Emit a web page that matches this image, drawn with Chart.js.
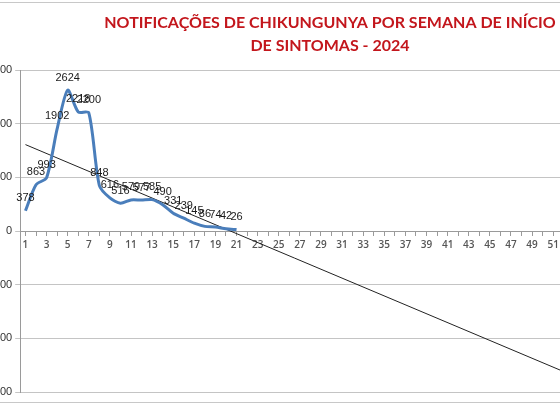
<!DOCTYPE html>
<html>
<head>
<meta charset="utf-8">
<script src="https://cdn.jsdelivr.net/npm/chart.js@4"></script>
<style>
  html, body { margin: 0; padding: 0; background: #fff; }
  body { width: 560px; height: 404px; overflow: hidden; position: relative; }
  #frame { position: absolute; left: 0; top: 2px; width: 560px; height: 399px; border-top: 1px solid #c8c8c8; border-bottom: 1px solid #c8c8c8; }
  #wrap { position: absolute; left: -22px; top: 0; width: 720px; height: 404px; }
</style>
</head>
<body>
<div id="frame"></div>
<div id="wrap"><canvas id="chart"></canvas></div>
<script>
// semanas epidemiológicas 1..52
var weeks = [];
for (var w = 1; w <= 52; w++) weeks.push(String(w));

// casos notificados por semana (1..21)
var cases = [378, 863, 993, 1902, 2624, 2218, 2200, 848, 616, 516,
             579, 577, 585, 490, 331, 239, 145, 86, 74, 42, 26];

var trendFirst = 1610;
var trendLast = -2620;
var trend = weeks.map(function (w, i) {
  if (i === 0) return trendFirst;
  if (i === weeks.length - 1) return trendLast;
  return null;
});

var yTicks = [-3000, -2000, -1000, 0, 1000, 2000, 3000];

var titleLines = ['NOTIFICAÇÕES DE CHIKUNGUNYA POR SEMANA DE INÍCIO', 'DE SINTOMAS - 2024'];

// título centrado na largura total do gráfico original (que continua à direita)
var chartTitle = {
  id: 'chartTitle',
  afterDraw: function (chart) {
    var ctx = chart.ctx;
    ctx.save();
    ctx.font = 'bold 16px Lato, "Open Sans", sans-serif';
    ctx.fillStyle = '#c3161c';
    ctx.textAlign = 'center';
    ctx.textBaseline = 'middle';
    titleLines.forEach(function (t, i) {
      ctx.fillText(t, chart.width / 2 - 8, 23 + i * 23);
    });
    ctx.restore();
  }
};

// rótulos de valor acima dos pontos
var valueLabels = {
  id: 'valueLabels',
  afterDatasetsDraw: function (chart) {
    var ctx = chart.ctx;
    var meta = chart.getDatasetMeta(0);
    ctx.save();
    ctx.font = '11px "Liberation Sans", Arial, sans-serif';
    ctx.fillStyle = '#1a1a1a';
    ctx.textAlign = 'center';
    ctx.textBaseline = 'bottom';
    meta.data.forEach(function (pt, i) {
      ctx.fillText(String(cases[i]), pt.x, pt.y - 7);
    });
    ctx.restore();
  }
};

new Chart(document.getElementById('chart').getContext('2d'), {
  type: 'line',
  data: {
    labels: weeks,
    datasets: [{
      label: 'Notificações',
      data: cases,
      borderColor: '#4a7ebb',
      borderWidth: 3,
      pointRadius: 0,
      tension: 0.25,
      fill: false
    }, {
      label: 'Linear',
      data: trend,
      borderColor: '#222',
      borderWidth: 1,
      pointRadius: 0,
      spanGaps: true,
      fill: false
    }]
  },
  options: {
    responsive: true,
    maintainAspectRatio: false,
    animation: false,
    layout: { padding: { top: 70, left: 0, right: 129, bottom: 12 } },
    plugins: {
      legend: { display: false },
      tooltip: { enabled: false },
      title: { display: false }
    },
    scales: {
      x: {
        position: { y: 0 },
        offset: true,
        grid: { drawOnChartArea: false, color: '#9a9a9a', tickLength: 4, offset: false },
        border: { color: '#9a9a9a' },
        ticks: {
          autoSkip: false,
          maxRotation: 0,
          color: '#555',
          font: { family: '"Open Sans", sans-serif', size: 10, weight: '600' },
          padding: 4,
          callback: function (v, i) { return i % 2 === 0 ? weeks[i] : ''; }
        }
      },
      y: {
        min: -3000,
        max: 3000,
        afterBuildTicks: function (s) { s.ticks = yTicks.map(function (v) { return { value: v }; }); },
        grid: { color: '#c4c4c4', tickLength: 5 },
        border: { color: '#9a9a9a' },
        ticks: {
          color: '#333',
          font: { family: '"Liberation Sans", Arial, sans-serif', size: 11 },
          padding: 3
        }
      }
    }
  },
  plugins: [chartTitle, valueLabels]
});
</script>
</body>
</html>
